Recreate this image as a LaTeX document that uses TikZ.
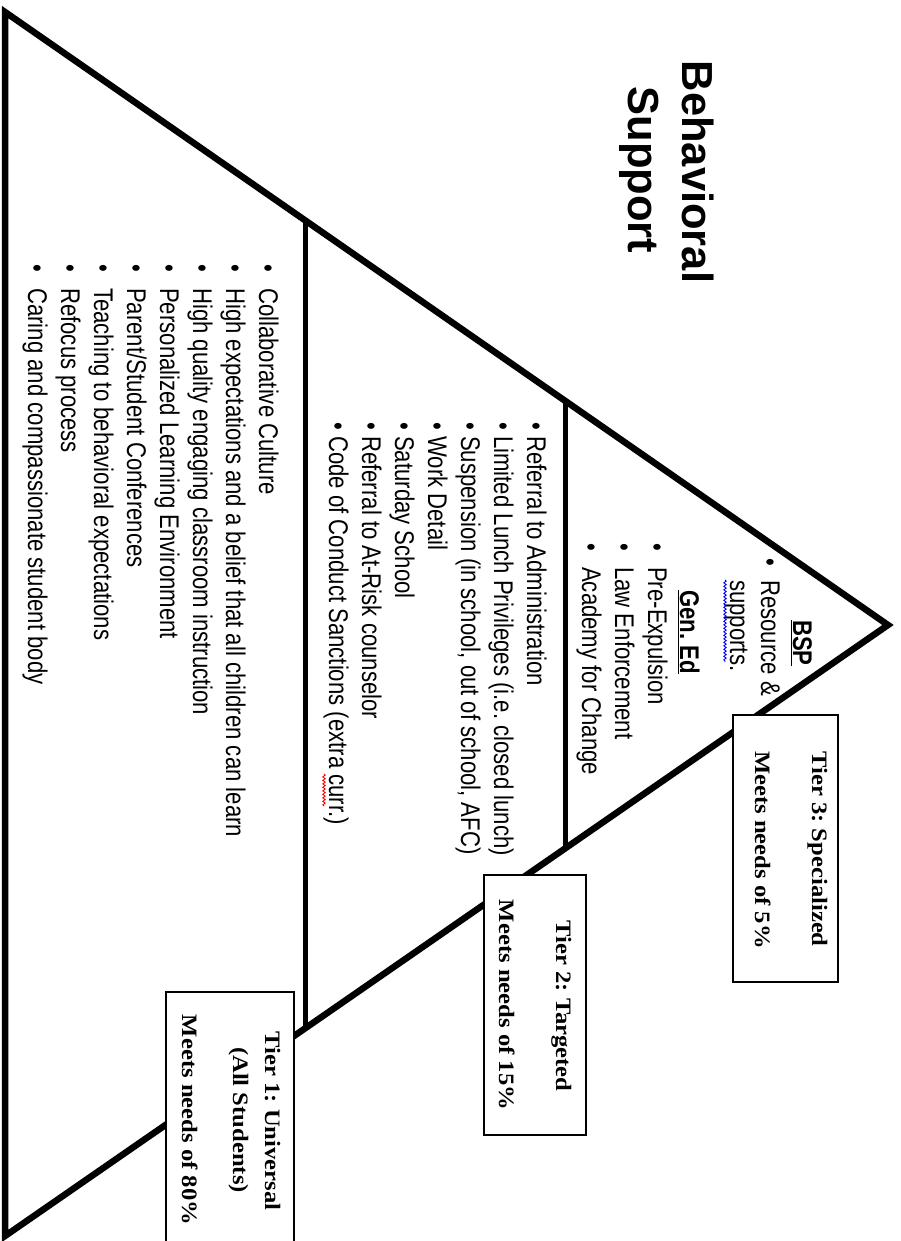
\documentclass[tikz,border=0pt]{standalone}
\usepackage{fontspec}
\setmainfont{Liberation Serif}
\newfontfamily\listfont[FakeStretch=0.82]{Liberation Sans}
\newfontfamily\titlefont{Liberation Sans}
\newfontfamily\tierfont[FakeStretch=1.12]{Liberation Serif}
\usetikzlibrary{calc,decorations.pathmorphing}
\frenchspacing
\begin{document}
\begin{tikzpicture}[x=1pt,y=-1pt,
  edge/.style={line width=6.5pt, line join=miter},
  divider/.style={line width=5pt},
  tierbox/.style={draw, line width=1.3pt, fill=white, inner sep=0pt},
  listtxt/.style={rotate=-90, anchor=base west, inner sep=0pt, font=\listfont\fontsize{27}{33}\selectfont\frenchspacing},
  tiertxt/.style={rotate=-90, anchor=base, inner sep=0pt, font=\tierfont\bfseries\fontsize{22}{28}\selectfont\frenchspacing},
  titletxt/.style={rotate=-90, anchor=base, inner sep=0pt, font=\titlefont\bfseries\fontsize{43.5}{50}\selectfont},
  squiggle/.style={line width=0.9pt, decorate, decoration={snake, amplitude=1.2pt, segment length=3.5pt}}
]
\useasboundingbox (0,0) rectangle (900,1241);
% pyramid
\coordinate (A) at (5,12);
\coordinate (B) at (888,625);
\coordinate (C) at (5,1236);
\draw[edge] (A) -- (B) -- (C) -- cycle;
\coordinate (u1) at ($(A)!0.3398!(B)$);
\coordinate (l1) at ($(C)!0.3398!(B)$);
\coordinate (u2) at ($(A)!0.6342!(B)$);
\coordinate (l2) at ($(C)!0.6342!(B)$);
\draw[divider] (u1) -- (l1);
\draw[divider] (u2) -- (l2);
% title
\node[titletxt] (title1) at (682,172) {Behavioral};
\node[titletxt] (title2) at (628,170) {Support};
% tier 1 list
\foreach \t [count=\i from 0] in {Collaborative Culture, High expectations and a belief that all children can learn, High quality engaging classroom instruction, Personalized Learning Environment, Parent/Student Conferences, Teaching to behavioral expectations, Refocus process, Caring and compassionate student body}
  \node[listtxt] (ta\i) at (259-33*\i, 264) {\makebox[24pt][l]{•}\t};
% tier 2 list
\foreach \t [count=\i from 0] in {Referral to Administration, Limited Lunch Privileges (i.e. closed lunch), {Suspension (in school, out of school, AFC)}, Work Detail, Saturday School, Referral to At-Risk counselor, Code of Conduct Sanctions (extra curr.)}
  \node[listtxt] (tb\i) at (527-33*\i, 422) {\makebox[14pt][l]{•}\t};
% tier 3 list
\node[listtxt] (bsp) at (793,620) {\bfseries\underline{BSP}};
\node[listtxt] (res) at (761,558) {\makebox[22pt][l]{•}Resource \&};
\node[listtxt] (sup) at (730,580) {supports.};
\node[listtxt] (gen) at (680,590) {\bfseries\underline{Gen. Ed}};
\node[listtxt] (pre) at (648,543) {\makebox[24pt][l]{•}Pre-Expulsion};
\node[listtxt] (law) at (615,543) {\makebox[24pt][l]{•}Law Enforcement};
\node[listtxt] (aca) at (582,543) {\makebox[24pt][l]{•}Academy for Change};
% spell-check squiggles
\draw[squiggle, blue] (725,580) -- (725,662);
\draw[squiggle, red] (324,774) -- (324,806);
% tier boxes
\node[tierbox, minimum width=105pt, minimum height=267pt] (box3) at (785.5,848.5) {};
\node[tiertxt] (t3a) at (812,849) {Tier 3: Specialized};
\node[tiertxt] (t3b) at (755,850) {Meets needs of 5\%};
\node[tierbox, minimum width=102pt, minimum height=260pt] (box2) at (535,1005) {};
\node[tiertxt] (t2a) at (556,1006) {Tier 2: Targeted};
\node[tiertxt] (t2b) at (499,1005) {Meets needs of 15\%};
\node[tierbox, minimum width=128pt, minimum height=258pt] (box1) at (230,1121) {};
\node[tiertxt] (t1a) at (265,1121) {Tier 1: Universal};
\node[tiertxt] (t1b) at (233,1120) {(All Students)};
\node[tiertxt] (t1c) at (182,1120) {Meets needs of 80\%};
\end{tikzpicture}
\end{document}
